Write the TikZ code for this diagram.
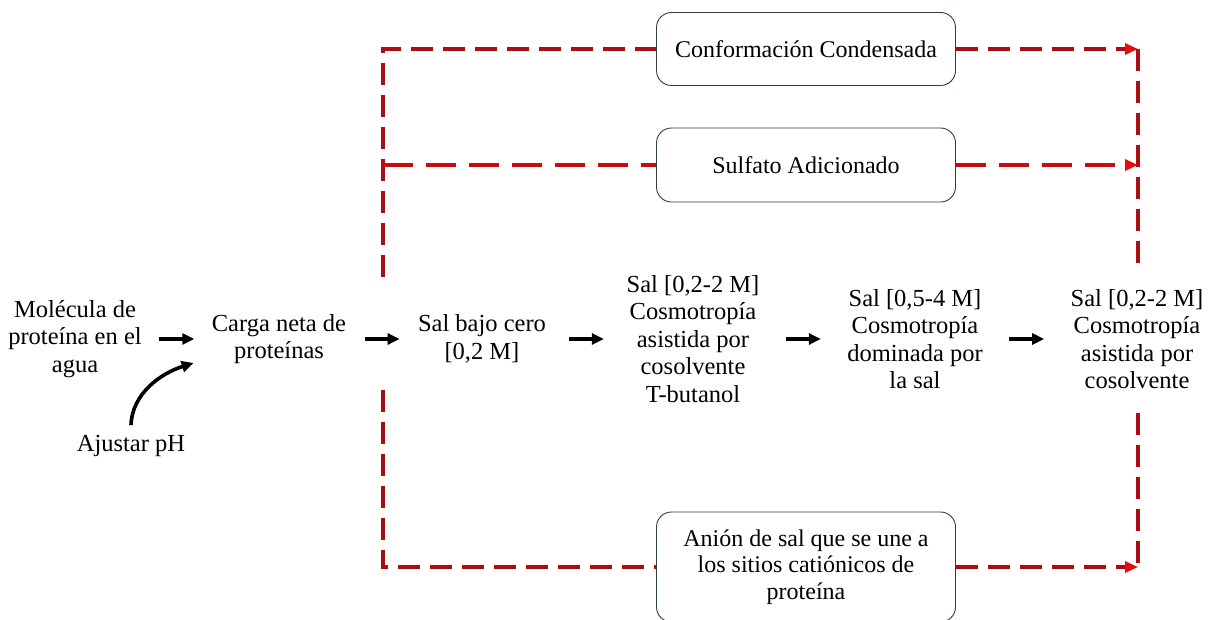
\documentclass[tikz,border=0pt]{standalone}
\usepackage{fontspec}
\setmainfont{Liberation Serif}
\usetikzlibrary{arrows.meta,calc}
\definecolor{dred}{RGB}{168,14,20}
\definecolor{dredtwo}{RGB}{198,12,14}
\definecolor{ared}{RGB}{228,12,12}
\definecolor{bord}{RGB}{45,62,72}
\newcommand\flowarrow[2]{\draw[flow] ($(#1.east)!0.5!(#2.west)+(-17.5,0)$) -- ($(#1.east)!0.5!(#2.west)+(17.5,0)$);}
\begin{document}
\begin{tikzpicture}[x=1pt,y=-1pt,
  txt/.style={align=center,font=\fontsize{24.5}{27.5}\selectfont,inner sep=0pt},
  rbox/.style={draw=bord,line width=0.9pt,rounded corners=15pt,minimum width=299pt,align=center,font=\fontsize{24}{26.5}\selectfont,fill=white,inner sep=2pt},
  flow/.style={line width=3.6pt,-{Triangle[length=12pt,width=11pt]}},
  dline/.style={draw=dred,line width=3.4pt,dash pattern=on 22pt off 10pt},
  dlinetwo/.style={draw=dredtwo,line width=4pt,dash pattern=on 30pt off 13pt},
  dtip/.style={-{Triangle[length=13pt,width=11pt,color=ared]}}
]
\fill[white] (0,0) rectangle (1208,620);
\useasboundingbox (0,0) rectangle (1208,620);

% main row
\node[txt] (mol) at (75,339) {Molécula de\\proteína en el\\agua};
\node[txt] (carga) at (279,339) {Carga neta de\\proteínas};
\node[txt] (sbc) at (482,339) {Sal bajo cero\\{[0,2 M]}};
\node[txt] (cA) at (693,339) {Sal [0,2-2 M]\\Cosmotropía\\asistida por\\cosolvente\\T-butanol};
\node[txt] (cB) at (915,339) {Sal [0,5-4 M]\\Cosmotropía\\dominada por\\la sal};
\node[txt] (cC) at (1137,339) {Sal [0,2-2 M]\\Cosmotropía\\asistida por\\cosolvente};
\node[txt] (ph) at (131,446) {Ajustar pH};

\flowarrow{mol}{carga}
\flowarrow{carga}{sbc}
\flowarrow{sbc}{cA}
\flowarrow{cA}{cB}
\flowarrow{cB}{cC}
\draw[flow] ([yshift=10pt]ph.north) .. controls +(1,-32) and +(-32,10) .. ($(carga.west)+(-18,24)$);

% boxes
\node[rbox,minimum height=73pt] (b1) at (806,49) {Conformación Condensada};
\node[rbox,minimum height=74pt] (b2) at (806,165) {Sulfato Adicionado};
\node[rbox,minimum height=110pt] (b3) at (806,567) {Anión de sal que se une a\\los sitios catiónicos de\\proteína};

% fork and join points
\coordinate (ftop) at (383,277);
\coordinate (fbot) at (383,390);
\coordinate (jtop) at (1138,263);
\coordinate (jbot) at (1138,413);

% left branches
\draw[dline] (ftop) |- (b1.west);
\draw[dlinetwo] (ftop |- b2.west) -- (b2.west);
\draw[dline] (fbot) |- (b3.west);

% right branches
\draw[dline,dtip] (b1.east) -- (b1.east -| jtop);
\draw[dline] (b1.east -| jtop) -- (jtop);
\draw[dlinetwo,dtip] (b2.east) -- (b2.east -| jtop);
\draw[dline,dtip] (b3.east) -- (b3.east -| jbot);
\draw[dline] (jbot) -- (b3.east -| jbot);
\end{tikzpicture}
\end{document}
